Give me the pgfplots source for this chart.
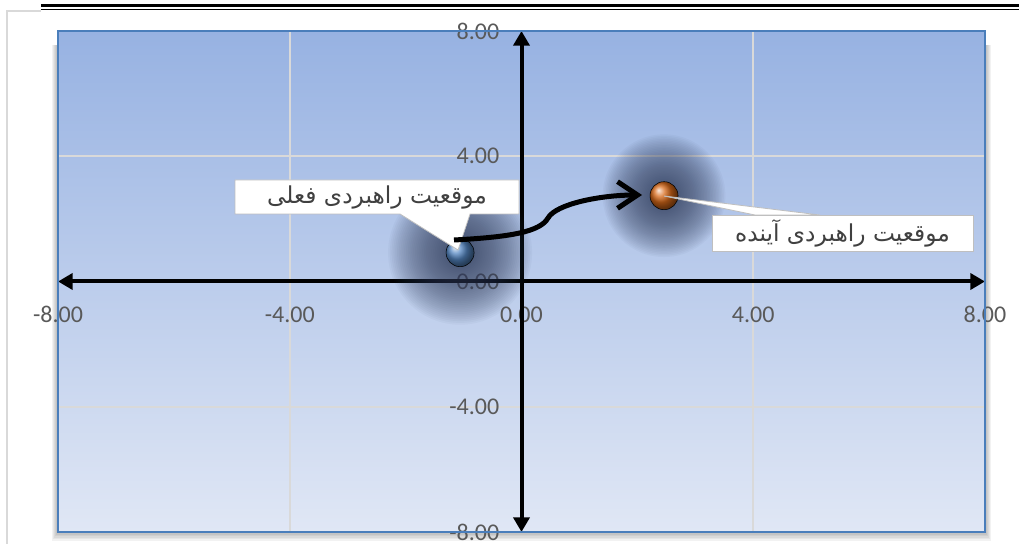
\documentclass[border=0pt]{standalone}
\usepackage{pgfplots}
\pgfplotsset{compat=1.18}
\usetikzlibrary{arrows.meta}
\usepackage{fontspec}
\setmainfont{Carlito}
\newfontfamily\arabicfont[Script=Arabic]{DejaVu Sans}
\TeXXeTstate=1

\definecolor{ticktext}{HTML}{595959}
\definecolor{bgtop}{RGB}{151,178,226}
\definecolor{bgmid}{RGB}{192,208,237}
\definecolor{bgbot}{RGB}{224,231,245}
\definecolor{gridc}{HTML}{D9D9D9}
\definecolor{framec}{HTML}{4A7EBB}
\definecolor{glowc}{RGB}{50,62,92}
\definecolor{curblue}{RGB}{85,135,195}
\definecolor{futorange}{RGB}{215,105,25}
\definecolor{callline}{HTML}{BFBFBF}
\definecolor{calltext}{HTML}{404040}

% soft halo behind a point: stacked translucent discs
\pgfdeclareplotmark{glow}{%
  \pgfsetfillopacity{0.04}%
  \foreach \k in {1,...,40}{%
    \pgfmathsetlengthmacro\glowr{\k/40*\pgfplotmarksize}%
    \pgfpathcircle{\pgfpointorigin}{\glowr}%
    \pgfusepathqfill}%
}

\begin{document}
\begin{tikzpicture}
\path[use as bounding box] (-43.5pt,-8.25pt) rectangle (720.75pt,399pt);

% page rules
\draw[black, line width=2.25pt] (-12.75pt,394.5pt) -- (720.75pt,394.5pt);
\draw[black, line width=0.75pt] (-12.75pt,391.5pt) -- (720.75pt,391.5pt);
\draw[gridc, line width=1.5pt] (-37.9pt,-9pt) -- (-37.9pt,390.75pt) -- (-12.75pt,390.75pt);

% plot area shadow and background
\foreach \k in {1,...,6}
  \fill[black, opacity=0.05] (-\k*0.7pt,-\k*1.1pt) rectangle (695.25pt+\k*0.8pt,365pt);
\shade[top color=bgtop, middle color=bgmid, bottom color=bgbot] (0,0) rectangle (695.25pt,375.75pt);

\begin{axis}[
  at={(0,0)}, anchor=south west,
  scale only axis, width=695.25pt, height=375.75pt,
  xmin=-8, xmax=8, ymin=-8, ymax=8,
  enlargelimits=false,
  axis lines=middle, axis line style={draw=none},
  xtick={-8,-4,0,4,8}, ytick={-8,-4,0,4,8},
  hide obscured x ticks=false, hide obscured y ticks=false,
  major tick length=0pt,
  grid=major, major grid style={gridc, line width=1.2pt},
  tick label style={font=\fontsize{18}{21}\selectfont, text=ticktext},
  /pgf/number format/fixed,
  /pgf/number format/fixed zerofill,
  /pgf/number format/precision=2,
  /pgf/number format/assume math mode=true,
  xticklabel style={anchor=center, inner sep=0pt, yshift=-24.75pt},
  yticklabel style={anchor=east, inner sep=0pt, xshift=-16.5pt},
  clip=false,
]
% halos
\addplot[only marks, mark=glow, mark size=54pt, mark options={fill=glowc, draw=none}]
  coordinates {(-1.06,0.92)};
\addplot[only marks, mark=glow, mark size=46pt, mark options={fill=glowc, draw=none}]
  coordinates {(2.46,2.74)};
% current and future position
\addplot[only marks, mark=ball, mark size=10.5pt, mark options={ball color=curblue}]
  coordinates {(-1.06,0.92)};
\addplot[only marks, mark=ball, mark size=10.5pt, mark options={ball color=futorange}]
  coordinates {(2.46,2.74)};

\draw[line width=3pt, {Triangle[length=11pt,width=12pt]}-{Triangle[length=11pt,width=12pt]}]
  (axis cs:-8,0) -- (axis cs:8,0);
\draw[line width=3pt, {Triangle[length=11pt,width=12pt]}-{Triangle[length=11pt,width=12pt]}]
  (axis cs:0,-8) -- (axis cs:0,8);
\end{axis}

\draw[framec, line width=1.1pt] (0,0) rectangle (695.25pt,375.75pt);

% callout: current
\filldraw[fill=white, draw=callline, line width=0.6pt]
  (132.75pt,264pt) -- (345.75pt,264pt) -- (345.75pt,238.5pt) -- (309pt,238.5pt)
  -- (300pt,211.5pt) -- (256.5pt,238.5pt) -- (132.75pt,238.5pt) -- cycle;
\node[text=calltext, font=\arabicfont\fontsize{17.5}{20}\selectfont] at (239.25pt,251.25pt)
  {\beginR موقعیت راهبردی فعلی\endR};

% callout: future
\filldraw[fill=white, draw=callline, line width=0.6pt]
  (454.5pt,252pt) -- (571.5pt,237.75pt) -- (522.75pt,237.75pt) -- cycle;
\filldraw[fill=white, draw=callline, line width=0.6pt]
  (490.5pt,237.75pt) rectangle (686.25pt,210.75pt);
\node[text=calltext, font=\arabicfont\fontsize{17.5}{20}\selectfont] at (588.375pt,224.25pt)
  {\beginR موقعیت راهبردی آینده\endR};

% movement arrow
\draw[line width=3.75pt, -{Straight Barb[length=15pt,width=20pt]}]
  (297pt,219pt) .. controls (339pt,221.25pt) and (361.5pt,225pt) .. (367.5pt,235.5pt)
  .. controls (373.5pt,246pt) and (406.5pt,252.75pt) .. (438pt,252.75pt);
\end{tikzpicture}
\end{document}
